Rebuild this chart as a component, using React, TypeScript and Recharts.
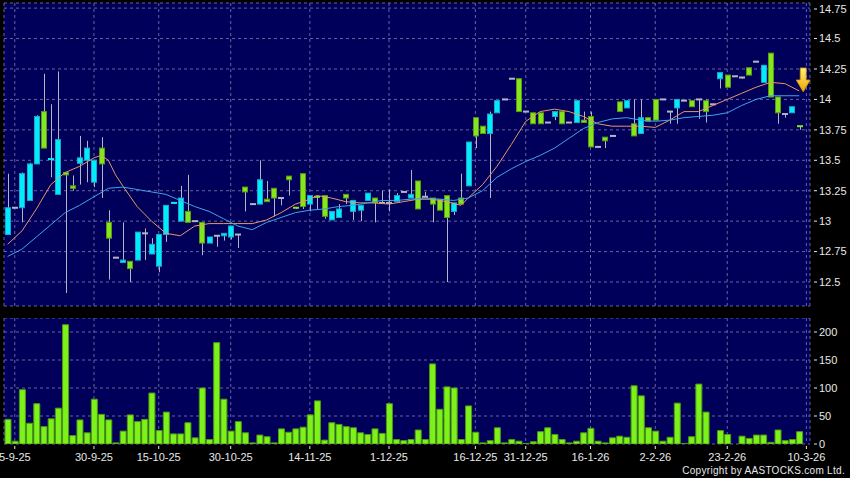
import React from 'react';
import {
	ComposedChart,
	Bar,
	Line,
	XAxis,
	YAxis,
	CartesianGrid,
	ReferenceDot,
} from 'recharts';

// daily candles, left to right
const open = [
	12.89, 13.11, 13.11, 13.17, 13.47, 13.9, 13.5, 13.22, 13.4, 13.29,
	13.475, 13.5, 13.32, 13.6, 12.99, 12.7, 12.66, 12.67, 12.68, 12.9,
	12.73, 12.63, 12.89, 13.14, 13.0, 13.08, 13.0, 12.99, 12.82, 12.88,
	12.88, 12.87, 12.89, 13.28, 13.14, 13.14, 13.18, 13.27, 13.19, 13.37,
	13.11, 13.39, 13.14, 13.2, 13.21, 13.01, 13.03, 13.22, 13.08, 13.09,
	13.17, 13.19, 13.15, 13.15, 13.16, 13.24, 13.19, 13.33, 13.2, 13.19,
	13.18, 13.21, 13.08, 13.19, 13.29, 13.85, 13.78, 13.72, 13.89, 14.0,
	14.17, 14.17, 13.9, 13.89, 13.89, 13.81, 13.86, 13.9, 13.81, 13.81,
	13.83, 13.86, 13.61, 13.69, 13.7, 13.98, 13.93, 13.8, 13.72, 13.85,
	14.0, 14.0, 13.9, 13.93, 13.99, 13.99, 14.0, 13.99, 13.96, 14.17,
	14.2, 14.19, 14.18, 14.26, 14.31, 14.14, 14.38, 14.02, 13.88, 13.89,
	13.78,
];
const close = [
	13.11, 13.11, 13.39, 13.47, 13.86, 13.6, 13.51, 13.67, 13.38, 13.27,
	13.52, 13.6, 13.5, 13.47, 12.86, 12.7, 12.68, 12.61, 12.91, 12.9,
	12.81, 12.89, 13.13, 13.15, 13.19, 12.99, 13.0, 12.82, 12.87, 12.88,
	12.9, 12.96, 12.89, 13.24, 13.14, 13.34, 13.16, 13.19, 13.19, 13.34,
	13.1, 13.12, 13.21, 13.19, 13.04, 13.08, 13.1, 13.19, 13.17, 13.13,
	13.23, 13.15, 13.15, 13.15, 13.21, 13.24, 13.22, 13.1, 13.2, 13.14,
	13.09, 13.03, 13.15, 13.14, 13.65, 13.7, 13.72, 13.88, 13.99, 14.0,
	14.17, 13.9, 13.9, 13.8, 13.8, 13.81, 13.9, 13.8, 13.81, 13.99,
	13.81, 13.61, 13.61, 13.66, 13.7, 13.9, 13.99, 13.7, 13.85, 13.82,
	13.83, 14.0, 13.9, 14.0, 13.99, 13.94, 14.0, 13.9, 13.96, 14.22,
	14.1, 14.19, 14.18, 14.2, 14.31, 14.28, 14.02, 13.89, 13.88, 13.94,
	13.77,
];
const high = [
	13.39, 13.11, 13.4, 13.48, 13.87, 14.21, 13.96, 14.23, 13.4, 13.375,
	13.7, 13.66, 13.5, 13.69, 13.09, 12.7, 12.99, 12.67, 12.91, 12.94,
	12.86, 12.89, 13.13, 13.15, 13.29, 13.38, 13.0, 12.99, 12.87, 12.88,
	12.9, 12.96, 12.89, 13.28, 13.14, 13.5, 13.33, 13.27, 13.19, 13.37,
	13.11, 13.39, 13.21, 13.2, 13.21, 13.08, 13.14, 13.22, 13.17, 13.13,
	13.23, 13.19, 13.25, 13.26, 13.23, 13.24, 13.42, 13.33, 13.24, 13.19,
	13.18, 13.21, 13.15, 13.39, 13.65, 13.85, 13.78, 13.9, 13.99, 14.0,
	14.17, 14.17, 13.9, 13.89, 13.89, 13.81, 13.9, 13.9, 13.81, 13.99,
	13.9, 13.9, 13.61, 13.69, 13.7, 13.98, 13.99, 14.0, 14.0, 13.85,
	14.0, 14.0, 13.9, 14.0, 13.99, 13.99, 14.0, 14.0, 13.96, 14.22,
	14.2, 14.19, 14.18, 14.26, 14.31, 14.28, 14.38, 14.02, 13.88, 13.94,
	13.78,
];
const low = [
	12.89, 13.11, 12.99, 13.17, 13.47, 13.6, 13.36, 13.22, 12.41, 13.25,
	13.3, 13.32, 13.28, 13.19, 12.52, 12.7, 12.66, 12.5, 12.68, 12.68,
	12.73, 12.58, 12.83, 13.14, 13.0, 12.99, 13.0, 12.72, 12.82, 12.79,
	12.84, 12.85, 12.78, 13.08, 13.14, 13.14, 13.16, 13.04, 13.13, 13.21,
	13.1, 13.1, 13.08, 13.1, 13.02, 13.01, 13.03, 13.14, 13.01, 13.0,
	13.17, 12.99, 13.15, 13.08, 13.16, 13.24, 13.19, 13.1, 13.2, 12.99,
	13.09, 12.5, 13.05, 13.14, 13.29, 13.6, 13.72, 13.19, 13.89, 14.0,
	14.17, 13.9, 13.9, 13.8, 13.8, 13.81, 13.83, 13.8, 13.81, 13.81,
	13.81, 13.61, 13.6, 13.6, 13.7, 13.9, 13.93, 13.7, 13.72, 13.82,
	13.83, 14.0, 13.8, 13.8, 13.99, 13.94, 13.84, 13.81, 13.96, 14.09,
	14.1, 14.19, 14.17, 14.2, 14.31, 14.14, 14.02, 13.8, 13.85, 13.89,
	13.75,
];
const volume = [
	44, 5, 97, 37, 72, 31, 45, 64, 213, 15,
	43, 20, 80, 53, 43, 2, 23, 52, 40, 44,
	91, 24, 57, 18, 18, 38, 11, 100, 8, 181,
	80, 23, 40, 20, 2, 16, 13, 2, 27, 21,
	27, 30, 52, 77, 7, 38, 35, 31, 29, 20,
	17, 27, 19, 72, 8, 6, 8, 25, 8, 143,
	62, 102, 100, 8, 68, 21, 2, 6, 29, 2,
	8, 5, 1, 4, 22, 29, 17, 8, 2, 5,
	20, 28, 5, 2, 11, 14, 12, 104, 86, 29,
	23, 5, 12, 73, 1, 13, 107, 57, 0, 24,
	17, 0, 14, 10, 16, 16, 3, 25, 6, 8,
	22,
];

// moving averages: [candle index, value]
const ma10Points: [number, number][] = [
	[0, 12.81], [2, 12.92], [4, 13.1], [6, 13.3], [8, 13.4], [10, 13.45], [12, 13.52],
	[13, 13.54], [14, 13.5], [15, 13.38], [16, 13.29], [18, 13.12], [20, 13.0],
	[22, 12.9], [24, 12.88], [26, 12.96], [28, 12.98], [30, 12.98], [32, 12.98],
	[34, 12.98], [36, 13.01], [38, 13.07], [40, 13.14], [42, 13.18], [43, 13.21],
	[45, 13.19], [47, 13.16], [49, 13.15], [51, 13.15], [53, 13.14], [55, 13.16],
	[57, 13.18], [59, 13.18], [61, 13.16], [63, 13.13], [64, 13.19], [66, 13.3],
	[68, 13.45], [70, 13.63], [72, 13.82], [74, 13.9], [76, 13.92], [78, 13.9],
	[80, 13.86], [82, 13.8], [84, 13.78], [86, 13.78], [88, 13.78], [90, 13.77],
	[92, 13.83], [94, 13.9], [96, 13.9], [98, 13.95], [100, 14.0], [102, 14.05],
	[104, 14.1], [106, 14.14], [108, 14.13], [110, 14.07],
];
const ma20Points: [number, number][] = [
	[0, 12.71], [2, 12.77], [4, 12.87], [6, 12.97], [8, 13.07], [10, 13.13],
	[12, 13.2], [14, 13.27], [16, 13.28], [18, 13.26], [20, 13.24], [22, 13.22],
	[24, 13.17], [26, 13.12], [28, 13.08], [30, 13.02], [32, 12.96], [34, 12.93],
	[36, 12.99], [38, 13.03], [40, 13.07], [42, 13.09], [44, 13.1], [46, 13.12],
	[48, 13.13], [50, 13.15], [52, 13.17], [54, 13.17], [56, 13.18], [58, 13.19],
	[60, 13.18], [62, 13.17], [64, 13.19], [66, 13.25], [68, 13.36], [70, 13.43],
	[72, 13.49], [74, 13.54], [76, 13.6], [78, 13.68], [80, 13.76], [82, 13.81],
	[84, 13.84], [86, 13.85], [88, 13.83], [90, 13.82], [92, 13.83], [94, 13.85],
	[96, 13.86], [98, 13.87], [100, 13.89], [102, 13.95], [104, 14.0], [106, 14.03],
	[108, 14.03], [110, 14.03],
];

const tickIdx = [1, 12, 21, 31, 42, 53, 65, 72, 81, 90, 100, 111];
const tickLabels = [
	'5-9-25', '30-9-25', '15-10-25', '30-10-25', '14-11-25', '1-12-25',
	'16-12-25', '31-12-25', '16-1-26', '2-2-26', '23-2-26', '10-3-26',
];
const priceTicks = [12.5, 12.75, 13, 13.25, 13.5, 13.75, 14, 14.25, 14.5, 14.75];
const volumeTicks = [0, 50, 100, 150, 200];
const arrowPrice = 14.16;

const ma10Map = new Map(ma10Points);
const ma20Map = new Map(ma20Points);
const data = open.map((o, i) => ({
	i,
	open: o,
	close: close[i],
	high: high[i],
	low: low[i],
	range: [low[i], high[i]],
	vol: volume[i],
	ma10: ma10Map.has(i) ? ma10Map.get(i) : null,
	ma20: ma20Map.has(i) ? ma20Map.get(i) : null,
}));

const BG = '#00005a';
const GRID = '#6464a0';
const CYAN = '#00ecfa';
const CYAN_EDGE = '#1aa6c8';
const LIME = '#84e61c';
const LIME_EDGE = '#5c9a12';
const WICK = '#b4b4c4';
const TEXT = '#e8e8e8';
const FONT = 'Arial, "Liberation Sans", sans-serif';

const Candle = (props: any) => {
	const { x, y, width, height, payload } = props;
	const { open: o, close: c, high: h, low: l } = payload;
	const top = Math.min(y, y + height);
	const span = Math.abs(height);
	const py = (p: number) => (h === l ? top : top + ((h - p) / (h - l)) * span);
	const cx = Math.round(x + width / 2) + 0.5;
	const yo = py(o);
	const yc = py(c);
	const bodyTop = Math.min(yo, yc);
	const bodyH = Math.abs(yo - yc);
	const up = c > o;
	const down = c < o;
	return (
		<g>
			{span > 0 && (
				<line x1={cx} x2={cx} y1={top} y2={top + span} stroke={WICK} strokeWidth={1} />
			)}
			{bodyH >= 1.5 ? (
				<rect
					x={Math.round(x) + 0.5}
					y={bodyTop}
					width={width - 1}
					height={bodyH}
					fill={up ? CYAN : LIME}
					stroke={up ? CYAN_EDGE : LIME_EDGE}
					strokeWidth={1}
				/>
			) : (
				<rect
					x={Math.round(x)}
					y={bodyTop - 1}
					width={width}
					height={2}
					fill={up ? CYAN : down ? LIME : WICK}
				/>
			)}
		</g>
	);
};

const RightTick = (props: any) => {
	const { x, y, payload } = props;
	return (
		<g>
			<line x1={x + 4} x2={x + 7} y1={y} y2={y} stroke={TEXT} />
			<text x={x + 9} y={y} dy='0.35em' fill={TEXT} fontSize={11} fontFamily={FONT} textAnchor='start'>
				{payload.value}
			</text>
		</g>
	);
};

const BottomTick = (props: any) => {
	const { x, y, payload } = props;
	const k = tickIdx.indexOf(payload.value);
	return (
		<g>
			<line x1={x} x2={x} y1={y + 2} y2={y + 5} stroke={TEXT} />
			<text x={x} y={y + 17} fill={TEXT} fontSize={11} fontFamily={FONT} textAnchor='middle'>
				{k >= 0 ? tickLabels[k] : ''}
			</text>
		</g>
	);
};

const Arrow = (props: any) => {
	const { cx, cy } = props;
	const x = cx + 4;
	return (
		<g>
			<defs>
				<linearGradient id='arrowFill' x1='0' y1='0' x2='0' y2='1'>
					<stop offset='0%' stopColor='#fff07a' />
					<stop offset='100%' stopColor='#f0a400' />
				</linearGradient>
			</defs>
			<polygon
				points={`${x - 3},${cy - 12} ${x + 3},${cy - 12} ${x + 3},${cy} ${x + 7},${cy} ${x},${cy + 12} ${x - 7},${cy} ${x - 3},${cy}`}
				fill='url(#arrowFill)'
				stroke='#c88a00'
				strokeWidth={0.8}
			/>
		</g>
	);
};

const App = () => {
	return (
		<div
			style={{
				position: 'fixed',
				left: 0,
				top: 0,
				width: 850,
				height: 478,
				background: '#000',
				overflow: 'hidden',
				fontFamily: FONT,
			}}
		>
			<div style={{ position: 'absolute', left: 0, top: 0 }}>
				<ComposedChart
					width={850}
					height={310}
					data={data}
					margin={{ top: 3, right: 0, bottom: 4, left: 4 }}
				>
					<CartesianGrid
						fill={BG}
						stroke={GRID}
						strokeDasharray='3 3'
						horizontal
						vertical
					/>
					<XAxis
						dataKey='i'
						type='number'
						domain={[-0.5, 111.5]}
						ticks={tickIdx}
						hide
					/>
					<YAxis
						orientation='right'
						domain={[12.303, 14.792]}
						ticks={priceTicks}
						allowDataOverflow
						width={40}
						axisLine={false}
						tickLine={false}
						tickSize={0}
						tickMargin={0}
						tick={<RightTick />}
					/>
					<Bar dataKey='range' barSize={6} shape={<Candle />} isAnimationActive={false} />
					<Line
						dataKey='ma10'
						type='linear'
						stroke='#e8956a'
						strokeWidth={1}
						dot={false}
						connectNulls
						isAnimationActive={false}
					/>
					<Line
						dataKey='ma20'
						type='linear'
						stroke='#3fa4ec'
						strokeWidth={1}
						dot={false}
						connectNulls
						isAnimationActive={false}
					/>
					<ReferenceDot x={110} y={arrowPrice} shape={<Arrow />} />
				</ComposedChart>
			</div>
			<div style={{ position: 'absolute', left: 0, top: 318 }}>
				<ComposedChart
					width={850}
					height={160}
					data={data}
					margin={{ top: 0, right: 0, bottom: 0, left: 4 }}
				>
					<CartesianGrid
						fill={BG}
						stroke={GRID}
						strokeDasharray='3 3'
						horizontal
						vertical
					/>
					<XAxis
						dataKey='i'
						type='number'
						domain={[-0.5, 111.5]}
						ticks={tickIdx}
						height={34}
						axisLine={false}
						tickLine={false}
						tickSize={0}
						tickMargin={0}
						interval={0}
						tick={<BottomTick />}
					/>
					<YAxis
						orientation='right'
						domain={[0, 225]}
						ticks={volumeTicks}
						allowDataOverflow
						width={40}
						axisLine={false}
						tickLine={false}
						tickSize={0}
						tickMargin={0}
						tick={<RightTick />}
					/>
					<Bar
						dataKey='vol'
						barSize={6}
						fill='#7df21a'
						stroke='#4e9a10'
						strokeWidth={1}
						isAnimationActive={false}
					/>
				</ComposedChart>
			</div>
			<div
				style={{
					position: 'absolute',
					right: 5,
					top: 465,
					color: TEXT,
					fontSize: 10,
					letterSpacing: 0.3,
					lineHeight: '12px',
					fontFamily: FONT,
				}}
			>
				Copyright by AASTOCKS.com Ltd.
			</div>
		</div>
	);
};

export default App;
